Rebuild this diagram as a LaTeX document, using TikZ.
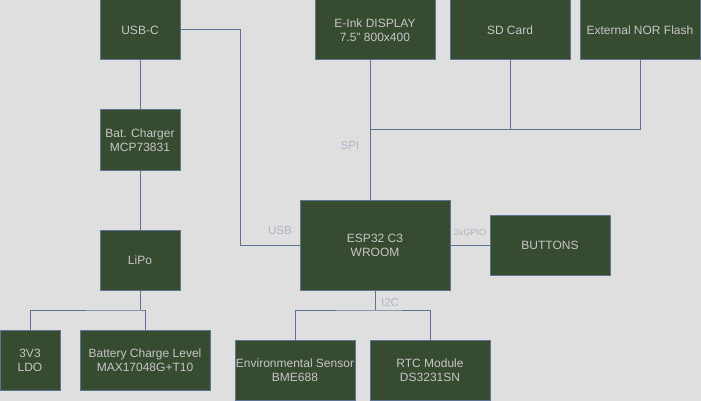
\documentclass[tikz,border=0pt]{standalone}
\usepackage{fontspec}
\setmainfont{Liberation Sans}
\definecolor{bgc}{HTML}{DFDFDF}
\definecolor{boxfill}{HTML}{374B30}
\definecolor{linec}{HTML}{5F7393}
\definecolor{boxtext}{HTML}{C6C6C6}
\definecolor{labtext}{HTML}{B2B4C6}
\begin{document}
\begin{tikzpicture}[x=1pt,y=-1pt,
  blk/.style={draw=linec,fill=boxfill,line width=1pt,inner sep=0pt,
    text=boxtext,font=\fontsize{12}{14}\selectfont,align=center,
    minimum width=#1,minimum height=60pt},
  blk/.default=80pt,
  wire/.style={draw=linec,line width=1pt},
  lab/.style={text=labtext,font=\fontsize{11.5}{13}\selectfont,inner sep=0pt}]
\fill[bgc] (0,0) rectangle (701,401);
\useasboundingbox (0,0) rectangle (701,401);

\node[blk] (usbc) at (140,30) {USB-C};
\node[blk=120pt] (eink) at (375,30) {E-Ink DISPLAY\\7.5" 800x400};
\node[blk=120pt] (sd) at (510,30) {SD Card};
\node[blk=120pt] (nor) at (640,30) {External NOR Flash};
\node[blk] (chg) at (140,140) {Bat. Charger\\MCP73831};
\node[blk] (lipo) at (140,260) {LiPo};
\node[blk=150pt,minimum height=90pt] (esp) at (375,245) {ESP32 C3\\WROOM};
\node[blk=120pt] (btn) at (550,245) {BUTTONS};
\node[blk=60pt] (ldo) at (30,360) {3V3\\LDO};
\node[blk=130pt] (bcl) at (145,360) {Battery Charge Level\\MAX17048G+T10};
\node[blk=120pt] (env) at (295,370) {Environmental Sensor\\BME688};
\node[blk=120pt] (rtc) at (430,370) {RTC Module\\DS3231SN};

\coordinate (spij) at (370,130);
\coordinate (lipj) at (140,310);
\coordinate (i2cj) at (375,310);

% USB-C to charger to LiPo
\draw[wire] (usbc.south) -- (chg.north);
\draw[wire] (chg.south) -- (lipo.north);
% LiPo branches
\draw[wire] (lipo.south) -- (lipj);
\draw[wire] (ldo.north) |- (lipj) -| (bcl.north);
% USB to ESP
\draw[wire] (usbc.east) -| (240,245) -- (esp.west);
% SPI bus
\draw[wire] (eink.south -| spij) -- (esp.north -| spij);
\draw[wire] (spij) -| (nor.south);
\draw[wire] (sd.south) -- (sd.south |- spij);
% GPIO
\draw[wire] (esp.east) -- (btn.west);
% I2C
\draw[wire] (esp.south) -- (i2cj);
\draw[wire] (env.north) |- (i2cj) -| (rtc.north);

\node[lab] (lspi) at (350,145.5) {SPI};
\node[lab] (lusb) at (280,231) {USB};
\node[lab] (li2c) at (390,302.5) {I2C};
\node[lab,font=\fontsize{9}{10}\selectfont] (lgpio) at (470,232) {3xGPIO};
\end{tikzpicture}
\end{document}
